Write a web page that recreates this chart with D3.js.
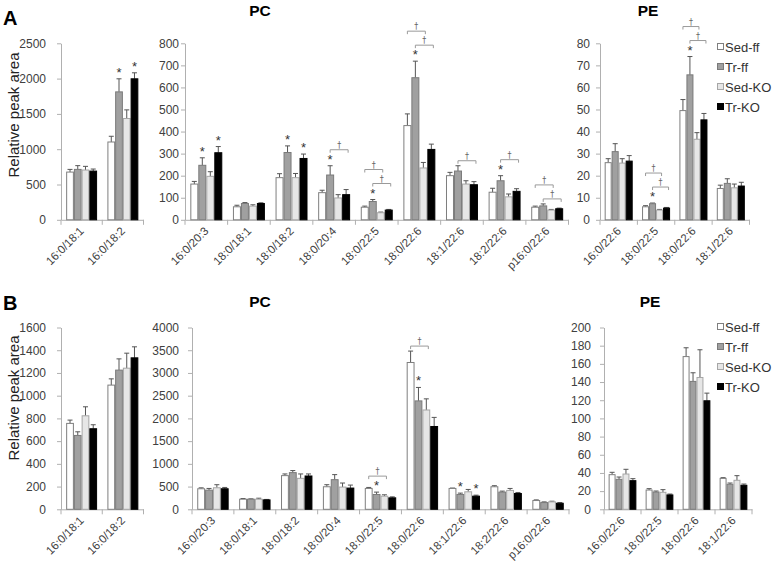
<!DOCTYPE html>
<html><head><meta charset="utf-8">
<script src="https://cdn.jsdelivr.net/npm/d3@7"></script>
<style>
body{margin:0;background:#fff;}
text{font-family:"Liberation Sans",Arial,Helvetica,sans-serif;}
</style>
</head><body>
<svg id="chart" width="777" height="566"></svg>
<script>
// ---------------- DATA ----------------
const series = ["Sed-ff", "Tr-ff", "Sed-KO", "Tr-KO"];

// Panel A, left
const aLeftCats = ["16:0/18:1", "16:0/18:2"];
const aLeftMeans = [[676, 714, 705, 690], [1102, 1812, 1435, 1997]];
const aLeftErrs = [[38, 53, 52, 29], [81, 185, 122, 85]];
const aLeftStars = [[], [1, 3]];
const aLeftDaggers = [[], []];
const aLeftTicks = [0, 500, 1000, 1500, 2000, 2500];

// Panel A, PC
const aPCCats = ["16:0/20:3", "18:0/18:1", "18:0/18:2", "18:0/20:4", "18:0/22:5", "18:0/22:6", "18:1/22:6", "18:2/22:6", "p16:0/22:6"];
const aPCMeans = [[162, 247, 197, 304], [59, 74, 62, 74], [191, 305, 191, 278], [123, 203, 99, 114], [57, 83, 32, 44], [427, 644, 235, 319], [200, 221, 162, 159], [125, 177, 104, 129], [57, 63, 44, 50]];
const aPCErrs = [[12, 34, 21, 28], [7, 4, 6, 3], [18, 30, 19, 20], [11, 42, 15, 23], [5, 9, 3, 3], [53, 75, 25, 24], [15, 24, 15, 14], [18, 23, 13, 12], [5, 9, 3, 3]];
const aPCStars = [[1, 3], [], [1, 3], [1], [1], [1], [], [1], []];
const aPCDaggers = [[], [], [], [[1, 3]], [[1, 3], [0, 2]], [[1, 3], [0, 2]], [[1, 3]], [[1, 3]], [[1, 3], [0, 2]]];
const aPCTicks = [0, 100, 200, 300, 400, 500, 600, 700, 800];

// Panel A, PE
const aPECats = ["16:0/22:6", "18:0/22:5", "18:0/22:6", "18:1/22:6"];
const aPEMeans = [[25.9, 30.9, 25.7, 26.6], [5.9, 7.3, 4.4, 5.3], [49.5, 65.7, 36.5, 45.3], [14.2, 16.5, 14.5, 15.3]];
const aPEErrs = [[1.8, 3.6, 2.0, 2.5], [0.5, 0.3, 0.3, 0.3], [5.0, 8.3, 3.0, 2.9], [1.5, 2.1, 1.7, 1.7]];
const aPEStars = [[], [1], [1], []];
const aPEDaggers = [[], [[1, 3], [0, 2]], [[1, 3], [0, 2]], []];
const aPETicks = [0, 10, 20, 30, 40, 50, 60, 70, 80];

// Panel B, left
const bLeftCats = ["16:0/18:1", "16:0/18:2"];
const bLeftMeans = [[756, 650, 823, 709], [1093, 1225, 1242, 1333]];
const bLeftErrs = [[29, 32, 79, 35], [55, 99, 132, 97]];
const bLeftStars = [[], []];
const bLeftDaggers = [[], []];
const bLeftTicks = [0, 200, 400, 600, 800, 1000, 1200, 1400, 1600];

// Panel B, PC
const bPCCats = ["16:0/20:3", "18:0/18:1", "18:0/18:2", "18:0/20:4", "18:0/22:5", "18:0/22:6", "18:1/22:6", "18:2/22:6", "p16:0/22:6"];
const bPCMeans = [[452, 422, 474, 452], [222, 222, 222, 207], [741, 807, 681, 733], [496, 652, 489, 467], [459, 326, 289, 252], [3230, 2385, 2185, 1822], [459, 326, 385, 289], [496, 378, 415, 348], [193, 148, 163, 133]];
const bPCErrs = [[20, 37, 67, 29], [15, 8, 22, 10], [37, 45, 97, 45], [45, 111, 89, 66], [22, 52, 30, 22], [251, 296, 245, 200], [8, 30, 52, 22], [23, 22, 44, 22], [14, 15, 15, 15]];
const bPCStars = [[], [], [], [], [1], [1], [1, 3], [], []];
const bPCDaggers = [[], [], [], [], [[0, 2]], [[0, 2]], [], [], []];
const bPCTicks = [0, 500, 1000, 1500, 2000, 2500, 3000, 3500, 4000];

// Panel B, PE
const bPECats = ["16:0/22:6", "18:0/22:5", "18:0/22:6", "18:1/22:6"];
const bPEMeans = [[38.1, 33.0, 38.8, 31.5], [21.2, 19.0, 18.7, 15.8], [168, 140.7, 145, 119.4], [34.0, 27.5, 31.9, 26.4]];
const bPEErrs = [[2.6, 2.5, 5.2, 2.2], [1.5, 1.1, 2.9, 1.0], [9.7, 9.5, 30.5, 8.4], [0.8, 1.4, 5.1, 1.4]];
const bPEStars = [[], [], [], []];
const bPEDaggers = [[], [], [], []];
const bPETicks = [0, 20, 40, 60, 80, 100, 120, 140, 160, 180, 200];

// ---------------- STYLE / LAYOUT ----------------
const fills = {"Sed-ff": "#ffffff", "Tr-ff": "#a0a0a0", "Sed-KO": "#e6e6e6", "Tr-KO": "#000000"};
const strokes = {"Sed-ff": "#7f7f7f", "Tr-ff": "#7a7a7a", "Sed-KO": "#a6a6a6", "Tr-KO": "#000000"};
const axisColor = "#b0b0b0";
const labelColor = "#404040";

const charts = [
  {cats: aLeftCats, means: aLeftMeans, errs: aLeftErrs, stars: aLeftStars, daggers: aLeftDaggers, ticks: aLeftTicks, x0: 61, x1: 143.5, top: 43.3, bottom: 219.8, labelX: 46},
  {cats: aPCCats, means: aPCMeans, errs: aPCErrs, stars: aPCStars, daggers: aPCDaggers, ticks: aPCTicks, x0: 185, x1: 568.5, top: 43.3, bottom: 219.8, labelX: 179},
  {cats: aPECats, means: aPEMeans, errs: aPEErrs, stars: aPEStars, daggers: aPEDaggers, ticks: aPETicks, x0: 600, x1: 749.5, top: 43.3, bottom: 219.8, labelX: 590},
  {cats: bLeftCats, means: bLeftMeans, errs: bLeftErrs, stars: bLeftStars, daggers: bLeftDaggers, ticks: bLeftTicks, x0: 61, x1: 143.5, top: 327.5, bottom: 509.3, labelX: 46},
  {cats: bPCCats, means: bPCMeans, errs: bPCErrs, stars: bPCStars, daggers: bPCDaggers, ticks: bPCTicks, x0: 192, x1: 569, top: 327.5, bottom: 509.3, labelX: 179},
  {cats: bPECats, means: bPEMeans, errs: bPEErrs, stars: bPEStars, daggers: bPEDaggers, ticks: bPETicks, x0: 604, x1: 752, top: 327.5, bottom: 509.3, labelX: 591}
];

const svg = d3.select("#chart");

charts.forEach(c => {
  const g = svg.append("g");
  const y = d3.scaleLinear().domain([0, d3.max(c.ticks)]).range([c.bottom, c.top]);
  const x = d3.scaleBand().domain(c.cats).range([c.x0, c.x1]).padding(0);
  const xi = d3.scaleBand().domain(series).range([0, x.bandwidth()]).paddingInner(0).paddingOuter(0.667);

  // y axis
  const tickSize = 4;
  const ya = g.append("g").attr("transform", `translate(${c.x0},0)`)
    .call(d3.axisLeft(y).tickValues(c.ticks).tickSize(tickSize).tickSizeOuter(0)
      .tickPadding(c.x0 - c.labelX - tickSize).tickFormat(d3.format("d")));
  ya.select(".domain").attr("stroke", axisColor);
  ya.selectAll(".tick line").attr("stroke", axisColor);
  ya.selectAll(".tick text").attr("fill", labelColor).style("font-size", "12px")
    .style("font-family", '"Liberation Sans",Arial,sans-serif');

  // x axis
  const xa = g.append("g").attr("transform", `translate(0,${c.bottom})`)
    .call(d3.axisBottom(x).tickSize(0).tickSizeOuter(0).tickPadding(0));
  xa.select(".domain").attr("stroke", axisColor);
  xa.selectAll(".tick text")
    .attr("fill", labelColor)
    .style("font-size", "11.5px")
    .style("font-family", '"Liberation Sans",Arial,sans-serif')
    .attr("text-anchor", "end")
    .attr("dy", null)
    .attr("y", 0)
    .attr("transform", "translate(3,12) rotate(-45)");
  // category boundary ticks
  const bounds = c.cats.map(d => x(d)).concat([c.x1]);
  g.selectAll(null).data(bounds).enter().append("line")
    .attr("x1", d => d).attr("x2", d => d)
    .attr("y1", c.bottom).attr("y2", c.bottom + 5)
    .attr("stroke", axisColor);

  // bars
  const rows = [];
  c.cats.forEach((cat, ci) => {
    series.forEach((s, si) => {
      rows.push({cat, ci, s, si, v: c.means[ci][si], e: c.errs[ci][si]});
    });
  });
  const bx = d => x(d.cat) + xi(d.s);
  const bw = xi.bandwidth();

  // error bars (upper only)
  const eg = g.append("g");
  eg.selectAll("line.eb").data(rows).enter().append("line")
    .attr("x1", d => bx(d) + bw / 2).attr("x2", d => bx(d) + bw / 2)
    .attr("y1", d => y(d.v)).attr("y2", d => y(d.v + d.e))
    .attr("stroke", "#555").attr("stroke-width", 1);
  eg.selectAll("line.cap").data(rows).enter().append("line")
    .attr("x1", d => bx(d) + bw / 2 - 2.5).attr("x2", d => bx(d) + bw / 2 + 2.5)
    .attr("y1", d => y(d.v + d.e)).attr("y2", d => y(d.v + d.e))
    .attr("stroke", "#555").attr("stroke-width", 1);

  g.append("g").selectAll("rect").data(rows).enter().append("rect")
    .attr("x", d => bx(d) + 0.5)
    .attr("y", d => y(d.v))
    .attr("width", bw - 1)
    .attr("height", d => c.bottom - y(d.v))
    .attr("fill", d => fills[d.s])
    .attr("stroke", d => strokes[d.s])
    .attr("stroke-width", 1);

  // stars
  const starRows = [];
  c.stars.forEach((list, ci) => list.forEach(si => starRows.push(rows[ci * 4 + si])));
  g.selectAll("text.star").data(starRows).enter().append("text")
    .attr("x", d => bx(d) + bw / 2)
    .attr("y", d => y(d.v + d.e) - 2)
    .attr("text-anchor", "middle")
    .attr("fill", "#333")
    .style("font-size", "13px")
    .text("*");

  // dagger brackets
  c.daggers.forEach((list, ci) => {
    let prevY = null;
    list.forEach(pair => {
      const [a, b] = pair;
      let minY = Infinity;
      for (let si = a; si <= b; si++) {
        const r = rows[ci * 4 + si];
        let t = y(r.v + r.e);
        if (c.stars[ci].includes(si)) t -= 11;
        minY = Math.min(minY, t);
      }
      let by = minY - 5;
      if (prevY !== null) by = Math.min(by, prevY - 14);
      prevY = by;
      const xa1 = bx(rows[ci * 4 + a]) + bw / 2;
      const xb1 = bx(rows[ci * 4 + b]) + bw / 2 + 2;
      g.append("path")
        .attr("d", `M${xa1},${by + 3}V${by}H${xb1}V${by + 3}`)
        .attr("fill", "none").attr("stroke", "#9a9a9a").attr("stroke-width", 1);
      g.append("text")
        .attr("x", (xa1 + xb1) / 2).attr("y", by - 2)
        .attr("text-anchor", "middle").attr("fill", "#666")
        .style("font-family", '"DejaVu Sans",sans-serif')
        .style("font-size", "8px").text("\u2020");
    });
  });
});

// ---------------- TITLES / LABELS ----------------
const panels = [
  {letter: "A", top: 0, pcX: 260, peX: 648, titleY: 16, legendY: 47, ylabelY: 115},
  {letter: "B", top: 285, pcX: 260, peX: 650, titleY: 307, legendY: 327, ylabelY: 398}
];
panels.forEach(p => {
  svg.append("text").attr("x", 3).attr("y", p.top + 25)
    .style("font-size", "20px").style("font-weight", "bold").attr("fill", "#000").text(p.letter);
  svg.append("text").attr("x", p.pcX).attr("y", p.titleY).attr("text-anchor", "middle")
    .style("font-size", "15.5px").style("font-weight", "bold").attr("fill", "#000").text("PC");
  svg.append("text").attr("x", p.peX).attr("y", p.titleY).attr("text-anchor", "middle")
    .style("font-size", "15.5px").style("font-weight", "bold").attr("fill", "#000").text("PE");
  svg.append("text")
    .attr("transform", `translate(19,${p.ylabelY}) rotate(-90)`)
    .attr("text-anchor", "middle").attr("fill", "#222")
    .style("font-size", "15px").text("Relative peak area");
  const lg = svg.append("g");
  series.forEach((s, i) => {
    const yy = p.legendY + i * 20;
    lg.append("rect").attr("x", 717.5).attr("y", yy - 3.5).attr("width", 6).attr("height", 6)
      .attr("fill", fills[s]).attr("stroke", strokes[s]);
    lg.append("text").attr("x", 725).attr("y", yy + 4.5).attr("fill", "#333")
      .style("font-size", "13px").text(s);
  });
});
</script>
</body></html>
